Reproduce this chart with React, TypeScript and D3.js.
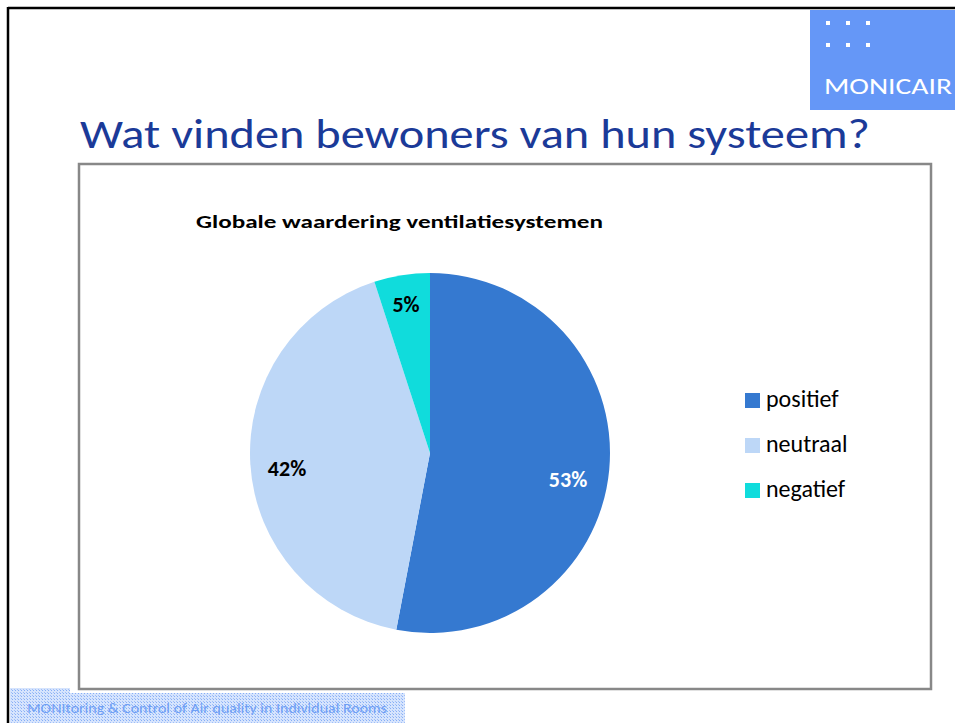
import React from "react";
import * as d3 from "d3";

const categories = ["positief", "neutraal", "negatief"];
const values = [53, 42, 5];
const labels = ["53%", "42%", "5%"];
const colors = ["#3579d0", "#bdd7f7", "#10dcdc"];
const labelColors = ["#ffffff", "#000000", "#000000"];

const W = 955;
const H = 723;

export default function App() {
  const cx = 430;
  const cy = 453;
  const r = 180;
  const pie = d3.pie<number>().sort(null).value((d) => d)(values);
  const arc = d3.arc<d3.PieArcDatum<number>>().innerRadius(0).outerRadius(r);
  const labelArc = d3.arc<d3.PieArcDatum<number>>().innerRadius(r * 0.8).outerRadius(r * 0.8);
  const font = "Calibri, Carlito, 'Open Sans', sans-serif";

  return (
    <svg width={W} height={H} style={{ position: "absolute", left: 0, top: 0, background: "#fff" }}>
      <defs>
        <pattern id="dots" width="3" height="3" patternUnits="userSpaceOnUse">
          <rect width="3" height="3" fill="#d6e4fd" />
          <rect width="1" height="1" fill="#86aef6" />
          <rect x="2" y="2" width="1" height="1" fill="#a0bff8" />
        </pattern>
      </defs>
      <rect width={W} height={H} fill="#fff" />
      {/* slide frame */}
      <line x1={8} y1={8} x2={W} y2={8} stroke="#000" strokeWidth={2.5} />
      <line x1={8} y1={7} x2={8} y2={H} stroke="#000" strokeWidth={2.5} />
      {/* logo */}
      <rect x={810} y={10} width={145} height={100} fill="#6597f7" />
      {[0, 1, 2].map((i) =>
        [0, 1].map((j) => (
          <rect key={`${i}-${j}`} x={826 + i * 20} y={21 + j * 22} width={4} height={4} fill="#ffffff" />
        ))
      )}
      <text x={824} y={94} fill="#fff" fontFamily={font} fontSize={23} textLength={128} lengthAdjust="spacingAndGlyphs">
        MONICAIR
      </text>
      {/* title */}
      <text x={80} y={148} fill="#1b3a98" fontFamily={font} fontSize={42} textLength={790} lengthAdjust="spacingAndGlyphs">
        Wat vinden bewoners van hun systeem?
      </text>
      {/* chart box */}
      <rect x={79} y={164} width={852} height={525} fill="#fff" stroke="#888" strokeWidth={2.5} />
      <text x={196} y={228} fontFamily={font} fontWeight="bold" fontSize={19} fill="#000" textLength={407} lengthAdjust="spacingAndGlyphs">
        Globale waardering ventilatiesystemen
      </text>
      <g transform={`translate(${cx},${cy})`}>
        {pie.map((d, i) => (
          <path key={categories[i]} d={arc(d) || ""} fill={colors[i]} />
        ))}
        {pie.map((d, i) => {
          let [x, y] = labelArc.centroid(d);
          if (i === 0) { x = 138; y = 29; }
          if (i === 1) { x = -143; y = 18; }
          if (i === 2) { x = -24; y = -146; }
          return (
            <text key={"l" + i} x={x} y={y} textAnchor="middle" dominantBaseline="middle" fontFamily={font} fontWeight="bold" fontSize={22} fill={labelColors[i]}>
              {labels[i]}
            </text>
          );
        })}
      </g>
      {categories.map((c, i) => (
        <g key={"lg" + c} transform={`translate(745,${393 + i * 45})`}>
          <rect x={0} y={0} width={15} height={15} fill={colors[i]} />
          <text x={21} y={14} fontFamily={font} fontSize={24} fill="#000">
            {c}
          </text>
        </g>
      ))}
      {/* footer */}
      <rect x={10} y={688} width={60} height={5} fill="url(#dots)" />
      <rect x={10} y={693} width={395} height={30} fill="url(#dots)" />
      <text x={27} y={713} fontFamily={font} fontSize={14} fill="#6f9ff5" textLength={360} lengthAdjust="spacingAndGlyphs">
        MONItoring &amp; Control of Air quality in Individual Rooms
      </text>
    </svg>
  );
}
